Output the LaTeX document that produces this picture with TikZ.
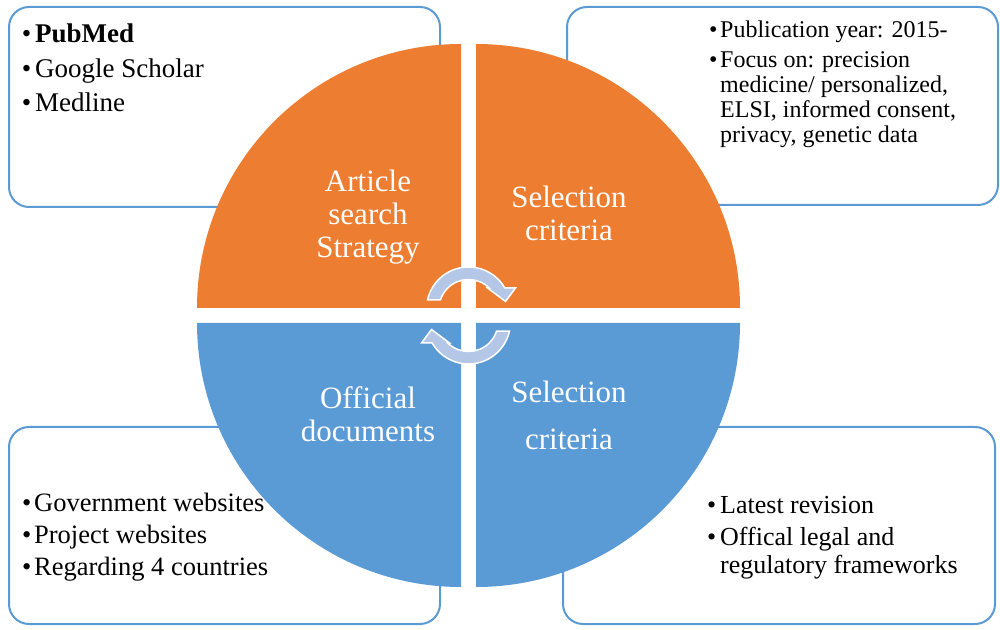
\documentclass[tikz,border=0pt]{standalone}
\usepackage{fontspec}
\setmainfont{Liberation Serif}
\definecolor{qorange}{HTML}{ED7D31}
\definecolor{qblue}{HTML}{5B9BD5}
\definecolor{qarrow}{HTML}{B4C7E7}
\newcommand{\bulx}[1]{\makebox[#1][l]{•}}
\begin{document}
\begin{tikzpicture}[x=1pt,y=1pt,
  infobox/.style={draw=qblue, line width=2pt, fill=white, rounded corners=20pt},
  lbl/.style={text=white, inner sep=0pt, anchor=base},
  itembox/.style={inner sep=0pt, anchor=base west, text=black},
  cyc/.style={fill=qarrow, draw=white, line width=1.5pt, line join=miter}]
\useasboundingbox (0,0) rectangle (1000,629);
% info boxes
\draw[infobox] (9,422) rectangle (440,622);
\draw[infobox] (567,424) rectangle (998,622);
\draw[infobox] (9,5) rectangle (440,202);
\draw[infobox] (563,5) rectangle (995,202);
% quadrants
\fill[qorange] (461,321) -- (197,321) arc (180:90:264) -- cycle;
\fill[qorange] (476,321) -- (476,585) arc (90:0:264) -- cycle;
\fill[qblue] (461,306) -- (197,306) arc (180:270:264) -- cycle;
\fill[qblue] (476,306) -- (740,306) arc (0:-90:264) -- cycle;
% cycle arrows
\begin{scope}[shift={(468.5,320)}]
\path[cyc] (167.6:42) arc (167.6:30:42) -- (47,21) -- (37,7.5) -- (19,21) -- (45.4:29.5) arc (45.4:162.2:29.5) -- cycle;
\end{scope}
\begin{scope}[shift={(468.5,307)}, rotate=180]
\path[cyc] (167.6:42) arc (167.6:30:42) -- (47,21) -- (37,7.5) -- (19,21) -- (45.4:29.5) arc (45.4:162.2:29.5) -- cycle;
\end{scope}
% quadrant labels
\node[lbl] (art) at (368,437) {\fontsize{31}{33}\selectfont\begin{tabular}[t]{@{}c@{}}Article\\search\\Strategy\end{tabular}};
\node[lbl] (sel1) at (569,421) {\fontsize{31}{33}\selectfont\begin{tabular}[t]{@{}c@{}}Selection\\criteria\end{tabular}};
\node[lbl] (off) at (368,220) {\fontsize{31}{33}\selectfont\begin{tabular}[t]{@{}c@{}}Official\\documents\end{tabular}};
\node[lbl] (sel2) at (569,226) {\fontsize{31}{47}\selectfont\begin{tabular}[t]{@{}c@{}}Selection\\criteria\end{tabular}};
% box texts
\node[itembox] (tl) at (21.6,586) {\fontsize{27}{34.5}\selectfont\begin{tabular}[t]{@{}l@{}}\bulx{13.4pt}\textbf{PubMed}\\\bulx{13.4pt}Google Scholar\\\bulx{13.4pt}Medline\end{tabular}};
\node[itembox] (tr) at (709,591) {\fontsize{24}{25}\selectfont\begin{tabular}[t]{@{}l@{}}\bulx{11pt}Publication year: 2015-\\[5pt]\bulx{11pt}Focus on: precision\\\hspace*{11pt}medicine/ personalized,\\\hspace*{11pt}ELSI, informed consent,\\\hspace*{11pt}privacy, genetic data\end{tabular}};
\node[itembox] (bl) at (22,118) {\fontsize{26.5}{32}\selectfont\begin{tabular}[t]{@{}l@{}}\bulx{12pt}Government websites\\\bulx{12pt}Project websites\\\bulx{12pt}Regarding 4 countries\end{tabular}};
\node[itembox] (br) at (707,116) {\fontsize{26}{28}\selectfont\begin{tabular}[t]{@{}l@{}}\bulx{13pt}Latest revision\\[4pt]\bulx{13pt}Offical legal and\\\hspace*{13pt}regulatory frameworks\end{tabular}};
\end{tikzpicture}
\end{document}
